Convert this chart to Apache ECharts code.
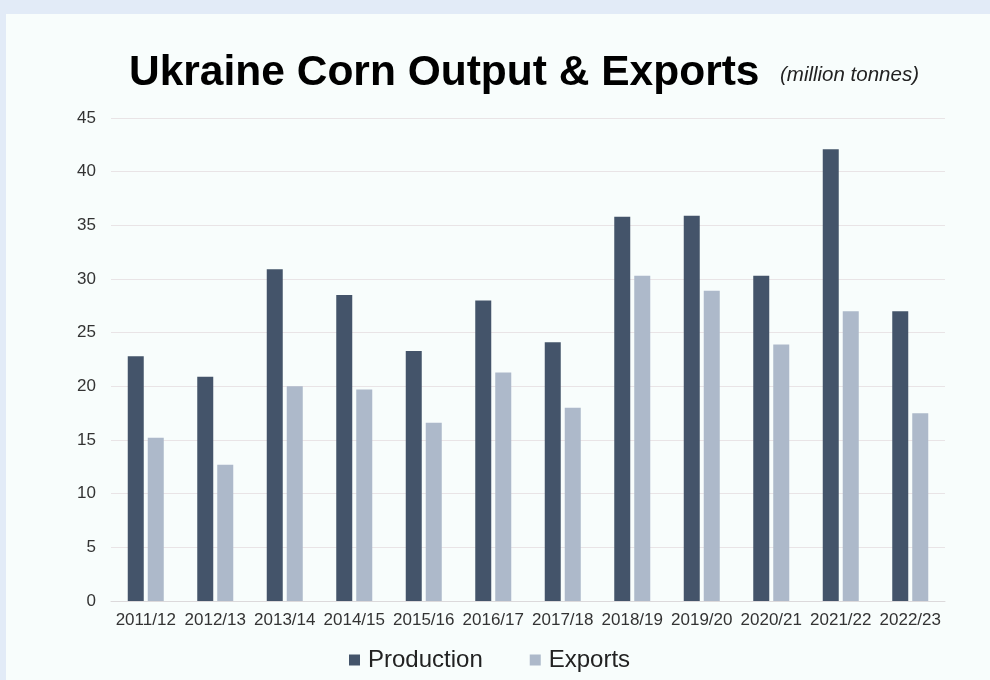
<!DOCTYPE html>
<html>
<head>
<meta charset="utf-8">
<script src="https://cdn.jsdelivr.net/npm/echarts@6/dist/echarts.min.js"></script>
<style>
  html, body { margin: 0; padding: 0; background: #e2ebf7; }
  #chart { width: 990px; height: 680px; }
</style>
</head>
<body>
<div id="chart"></div>
<script>
// Marketing years on the category axis
const seasons = ['2011/12', '2012/13', '2013/14', '2014/15', '2015/16', '2016/17',
                 '2017/18', '2018/19', '2019/20', '2020/21', '2021/22', '2022/23'];

// Corn output and exports, million tonnes
const production = [22.8, 20.9, 30.9, 28.5, 23.3, 28.0, 24.1, 35.8, 35.9, 30.3, 42.1, 27.0];
const exportsData = [15.2, 12.7, 20.0, 19.7, 16.6, 21.3, 18.0, 30.3, 28.9, 23.9, 27.0, 17.5];

// Value axis ticks
const yMin = 0;
const yMax = 45;
const yStep = 5;

const FONT = '"Liberation Sans", Arial, Helvetica, sans-serif';
const chart = echarts.init(document.getElementById('chart'), null, { renderer: 'canvas' });

chart.setOption({
  backgroundColor: '#e2ebf7',
  animation: false,
  graphic: [{
    type: 'rect',
    z: -10,
    silent: true,
    shape: { x: 6, y: 14, width: 984, height: 666 },
    style: { fill: '#f8fdfc' }
  }],
  title: [{
    text: 'Ukraine Corn Output & Exports',
    left: 124,
    top: 47,
    textStyle: { fontFamily: FONT, fontSize: 42.5, fontWeight: 'bold', color: '#000000' }
  }, {
    text: '(million tonnes)',
    left: 775,
    top: 60,
    textStyle: { fontFamily: FONT, fontSize: 20.5, fontStyle: 'italic', fontWeight: 'normal', color: '#222222' }
  }],
  legend: {
    data: ['Production', 'Exports'],
    left: 344,
    top: 643,
    itemWidth: 11,
    itemHeight: 11,
    itemGap: 47,
    icon: 'rect',
    textStyle: { fontFamily: FONT, fontSize: 24, color: '#222222', padding: [0, 0, 0, 3] }
  },
  grid: { left: 111, right: 45, top: 118, bottom: 79, containLabel: false },
  xAxis: {
    type: 'category',
    data: seasons,
    axisLine: { lineStyle: { color: '#dcd9db', width: 1 } },
    axisTick: { show: false },
    axisLabel: { fontFamily: FONT, fontSize: 17, color: '#333333', margin: 11, interval: 0 }
  },
  yAxis: {
    type: 'value',
    min: yMin,
    max: yMax,
    interval: yStep,
    axisLine: { show: false },
    axisTick: { show: false },
    splitLine: { lineStyle: { color: '#e9e4e6', width: 1 } },
    axisLabel: { fontFamily: FONT, fontSize: 17, color: '#333333', margin: 15 }
  },
  series: [{
    name: 'Production',
    type: 'bar',
    data: production,
    barWidth: 16,
    barGap: '25%',
    itemStyle: { color: '#44546a' }
  }, {
    name: 'Exports',
    type: 'bar',
    data: exportsData,
    barWidth: 16,
    barGap: '25%',
    itemStyle: { color: '#adb9ca' }
  }]
});
</script>
</body>
</html>
